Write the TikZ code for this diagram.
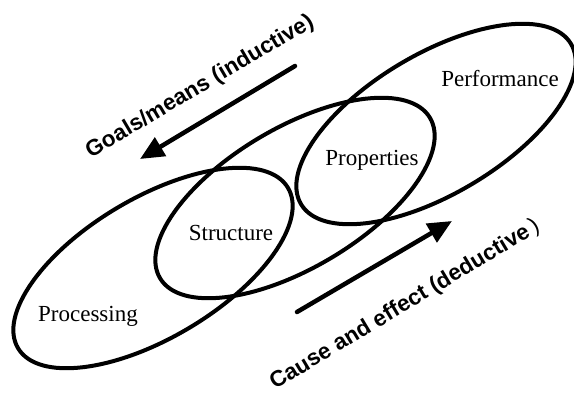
\documentclass[tikz,border=0pt]{standalone}
\usepackage{fontspec}
\setmainfont{Liberation Serif}
\newfontfamily\boldsans{Liberation Sans}
\usetikzlibrary{shapes.geometric,arrows.meta}
\tikzset{
  loop/.style={draw=black, line width=4pt, ellipse, minimum width=314pt, minimum height=140pt, inner sep=0pt, rotate=30.7},
  lbl/.style={font=\fontsize{23}{27}\selectfont, anchor=base, inner sep=0pt},
  slanted/.style={font=\boldsans\bfseries\fontsize{22.5}{27}\selectfont, inner sep=0pt},
  bigarrow/.style={line width=4.5pt, line cap=round, -{Triangle[length=24pt,width=21pt]}}
}
\begin{document}
\begin{tikzpicture}[x=1pt,y=-1pt]
\useasboundingbox (0,0) rectangle (574,393);
\node[loop] (E1) at (153,268) {};
\node[loop] (E2) at (295,198) {};
\node[loop] (E3) at (436,124) {};
\node[lbl] (processing) at (88,322) {Processing};
\node[lbl] (structure) at (231,241) {Structure};
\node[lbl] (properties) at (372,166) {Properties};
\node[lbl] (performance) at (500,87) {Performance};
\node[slanted, rotate=30.5] (goals) at (200,87) {Goals/means (inductive)};
\node[slanted, rotate=31] (cause) at (405,305) {Cause and effect (deductive\,{\mdseries)}};
\coordinate (g1) at (295,66);
\coordinate (g2) at (140,159);
\coordinate (c1) at (297,312);
\coordinate (c2) at (452,221);
\draw[bigarrow] (g1) -- (g2);
\draw[bigarrow] (c1) -- (c2);
\end{tikzpicture}
\end{document}
